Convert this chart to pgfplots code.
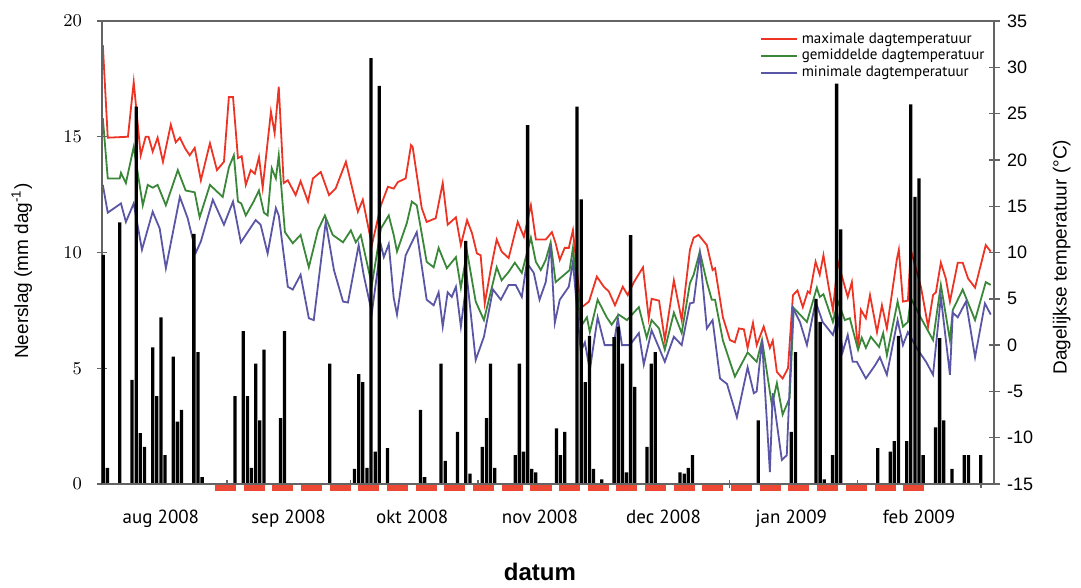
\documentclass[border=0pt]{standalone}
\usepackage{fontspec}
\setmainfont{Liberation Sans}
\newfontfamily\myr{PT Sans}
\usepackage{pgfplots}
\pgfplotsset{compat=1.18}
\definecolor{tmax}{RGB}{237,52,36}
\definecolor{tgem}{RGB}{58,135,58}
\definecolor{tmin}{RGB}{90,86,165}
\definecolor{weekred}{RGB}{236,72,52}
\definecolor{frame}{RGB}{100,100,100}

\begin{document}
\begin{tikzpicture}
% temperatuur (rechts)
\begin{axis}[
    at={(0,0)}, anchor=south west,
    scale only axis, width=446pt, height=231.5pt,
    xmin=0.7, xmax=217.2,
    ymin=-15, ymax=35,
    hide x axis,
    axis y line*=right,
    axis line style={draw=frame, line width=0.7pt},
    ytick={-15,-10,...,35},
    tick align=center,
    major tick length=5.5pt,
    ytick style={draw=frame, line width=0.7pt},
    tick label style={font=\fontsize{9}{10}\selectfont},
    /pgf/number format/assume math mode=true,
    ylabel={Dagelijkse temperatuur (°C)},
    ylabel style={font=\fontsize{9.5}{11}\selectfont, at={(axis description cs:1.076,0.49)}, anchor=center},
    legend style={at={(axis description cs:0.997,0.99)}, anchor=north east, draw=none, fill=none,
        font=\myr\fontsize{7.5}{8}\selectfont, row sep=-2.5pt, inner sep=1pt},
    legend cell align=left,
    legend image code/.code={\draw[#1, line width=1pt] (0pt,0pt) -- (18pt,0pt);},
    line width=0.9pt,
]
\addplot[tmax] coordinates {
(0.9,32.4)(2.1,22.4)(7.0,22.5)(8.4,28.4)(10.1,20.5)(11.3,22.5)(12,22.5)(13.0,20.9)(14.2,22.4)
(15.5,19.8)(17.4,23.8)(18.6,21.9)(19.6,22.4)(20.8,21.3)(22.0,20.5)(23.2,21.3)(24.7,17.8)(26.9,21.8)
(28.6,18.9)(30.3,19.8)(31.5,26.8)(32.5,26.8)(33.7,20.2)(34.6,20.4)(35.6,17.3)(36.8,18.9)(37.8,18.5)
(38.8,20.3)(39.7,17.0)(41.7,25.2)(42.6,22.9)(43.6,27.9)(44.8,17.5)(45.8,17.8)(47.7,16.2)(48.9,17.7)
(50.7,15.5)(51.9,18.0)(53.8,18.7)(55.8,16.2)(57.4,16.9)(59.9,19.8)(62.8,14.4)(64.0,15.7)(66.2,10.8)
(68.4,15.1)(70.1,17.1)(71.5,16.9)(72.5,17.6)(74.4,18.0)(75.7,21.6)(76.1,21.4)(78.3,14.8)(79.5,13.3)
(81.7,13.7)(83.4,17.5)(84.6,13.0)(86.6,13.8)(87.8,10.8)(89.3,13.5)(90.5,12.1)(91.7,9.9)(92.6,9.7)
(93.6,4.5)(95.1,8.3)(96.5,11.4)(97.7,10.1)(99.4,9.4)(101.6,13.3)(103.1,11.7)(104.8,15.1)(106.0,11.4)
(108.4,11.4)(109.9,12.2)(110.8,11.0)(111.8,9.2)(113,10.5)(114.0,10.5)(115.0,12.4)(116.9,4.0)(118.9,4.7)
(120.8,7.4)(122.5,6.3)(123.7,5.8)(125.2,4.3)(127.1,6.3)(128.3,5.4)(129.8,6.8)(132.0,8.4)(133.4,2.9)
(134.1,5.0)(135.9,4.8)(137.3,0.55)(139.5,7.0)(141.4,2.7)(143.4,10.3)(144.3,11.6)(145.5,11.9)(147.5,10.8)
(148.9,8.1)(149.5,8.3)(151.4,3.0)(153.1,0.55)(154.3,0.3)(155.3,1.8)(156.5,1.7)(157.4,-0.3)(158.7,2.4)
(159.6,0)(161.3,2.0)(162.8,-0.3)(163.5,0.5)(164.5,-2.9)(165.9,-3.6)(167.2,-2.5)(168.4,5.4)(169.5,5.9)
(170.8,4.1)(172.0,5.8)(172.5,5.6)(173.9,9.0)(174.9,7.6)(175.8,9.7)(177.1,6.2)(178.1,3.8)(179.3,9.0)
(181.0,6.3)(181.7,5.2)(182.7,6.8)(184.2,-0.5)(184.9,3.8)(186.1,2.9)(187.1,5.4)(188.8,1.4)(190.0,4.3)
(191.2,1.8)(193.6,9.2)(194.1,10.3)(195.1,4.7)(196.3,4.8)(197.0,10.3)(199.5,6.2)(201.2,2.0)(202.4,5.4)
(203.1,5.7)(204.3,8.9)(205.5,7.2)(206.5,4.7)(208.4,8.9)(209.6,8.9)(210.9,7.2)(212.6,6.2)(215.2,10.8)
(216.4,10.1)
};
\addlegendentry{maximale dagtemperatuur}
\addplot[tgem] coordinates {
(0.9,24.5)(2.1,18.0)(5.0,18.0)(5.3,18.6)(6.5,17.5)(8.4,21.4)(10.6,15.1)(11.8,17.3)(13,17.0)(14.2,17.3)
(16.2,15.1)(19.1,18.9)(21.0,16.7)(23.2,16.5)(24.4,13.8)(26.9,17.3)(30.0,16.0)(31.5,19.2)(32.7,20.5)
(33.7,15.5)(34.5,15.3)(35.6,14.0)(37.5,15.5)(38.8,16.7)(40.0,14.3)(40.9,14.0)(41.9,19.1)(42.9,18.0)
(43.6,20.5)(45.1,12.2)(47.0,11.0)(48.9,11.9)(50.9,8.4)(53.1,12.4)(54.8,14.0)(56.7,11.9)(59.2,11.1)
(61.1,12.4)(62.3,11.1)(63.5,11.9)(66.2,6.5)(68.4,12.6)(70.3,14.0)(71.5,11.9)(72.3,10.1)(74.7,13.2)
(75.9,15.5)(77.1,15.1)(79.5,9.0)(81.2,8.4)(82.4,10.5)(84.4,8.3)(86.6,9.5)(87.8,6.2)(89.3,10.1)(91.4,4.7)
(93.4,2.7)(96.5,8.4)(97.7,7.0)(99.4,7.9)(100.9,8.9)(102.6,7.8)(104.8,11.6)(106.0,9.0)(107.2,8.1)
(108.4,9.2)(109.6,11.1)(110.8,6.8)(114.2,8.1)(115.0,10.5)(116.9,2.0)(118.4,3.0)(119.1,1.4)(121.0,4.9)
(123.2,3.0)(124.4,2.2)(126.1,3.3)(128.1,2.7)(131.0,4.1)(132.9,0.8)(134.1,2.7)(135.9,1.8)(137.3,-0.5)
(139.5,3.5)(141.4,1.3)(143.4,6.7)(144.3,7.6)(145.8,10.1)(147.5,6.8)(148.7,4.9)(149.5,4.9)(151.4,0.5)
(154.3,-3.4)(157.4,-0.8)(159.6,-1.8)(160.9,0.55)(163.3,-6.5)(164.5,-4.1)(165.9,-7.5)(167.6,-5.7)
(168.6,4.0)(170.1,3.3)(171.8,2.5)(174.2,6.2)(174.9,5.2)(175.8,5.5)(178.1,2.5)(179.3,4.7)(181.0,2.7)
(182.2,2.9)(184.2,-0.5)(185.1,0.8)(186.1,-0.3)(187.3,0.9)(189.3,-0.2)(190.3,1.3)(191.2,-1.1)(193.8,4.7)
(195.1,2.0)(196.3,2.5)(197.0,5.1)(199.5,2.9)(202.4,0.55)(204.3,6.5)(206.5,0.55)(207.2,3.8)(209.6,6.0)
(212.6,2.7)(215.2,6.8)(216.4,6.5)
};
\addlegendentry{gemiddelde dagtemperatuur}
\addplot[tmin] coordinates {
(0.9,17.3)(2.1,14.3)(5.3,15.3)(6.5,13.3)(8.4,15.3)(10.4,10.3)(13.0,14.4)(14.7,12.6)(16.2,8.3)(19.6,16.0)
(21.5,13.7)(23.5,10.0)(24.7,11.2)(27.6,15.7)(30.3,13.0)(32.5,15.5)(34.4,11.1)(35.6,11.9)(38.0,13.5)
(39.2,13.0)(40.9,9.9)(42.9,14.8)(43.6,14.0)(45.8,6.3)(47.0,6.0)(48.9,7.6)(50.9,2.9)(52.1,2.7)(55.0,13.3)
(57.0,8.1)(59.2,4.7)(60.4,4.6)(63.0,10.8)(64.2,7.6)(66.2,3.5)(68.4,10.8)(69.1,9.5)(70.3,10.9)(71.5,5.1)
(72.3,3.3)(74.4,9.7)(77.1,12.2)(79.5,4.9)(81.2,4.3)(82.4,5.7)(83.4,2.0)(84.6,5.7)(85.6,5.2)(86.6,6.3)
(87.8,2.0)(89.3,7.2)(91.4,-1.6)(93.4,0.9)(95.6,6.0)(97.5,4.9)(99.4,6.5)(101.1,6.5)(102.6,5.2)(103.8,8.9)
(105.5,7.8)(106.9,4.9)(108.4,6.8)(109.6,10.8)(110.6,2.4)(111.8,4.9)(114.0,6.3)(115.0,9.0)(116.9,-0.7)
(117.9,0.3)(119.1,-2.7)(121.0,3.0)(122.7,0)(124.9,0)(125.9,2.9)(126.9,0)(128.8,0)(131.0,1.3)(132.2,-2.1)
(134.1,1.6)(135.9,-0.3)(137.3,-1.8)(139.5,0.9)(141.4,0)(143.4,4.5)(144.3,4.6)(145.8,9.9)(147.5,1.8)
(148.9,2.7)(150.7,-3.6)(152.4,-4.2)(154.8,-7.8)(157.4,-2.4)(158.9,-5.2)(159.6,-5.0)(160.9,0.55)
(162.8,-13.7)(163.5,-5.2)(165.7,-12.4)(166.9,-11.9)(168.4,4.0)(170.1,2.5)(171.8,0)(173.9,4.7)(175.6,2.5)
(178.1,1.1)(179.3,3.0)(180.5,-0.7)(181.7,1.1)(182.9,-1.8)(183.9,-1.8)(186.1,-3.6)(188.3,-2.2)(189.5,-1.3)
(191.2,-3.2)(193.8,2.7)(195.1,0)(196.3,1.4)(198.7,-0.5)(200.7,-1.8)(202.4,-3.2)(204.3,5.2)(206.5,-3.2)
(207.2,3.5)(208.4,3.0)(210.4,4.7)(212.6,-1.3)(215.0,4.5)(216.4,3.3)
};
\addlegendentry{minimale dagtemperatuur}
\end{axis}

% neerslag (links)
\begin{axis}[
    at={(0,0)}, anchor=south west,
    scale only axis, width=446pt, height=231.5pt,
    xmin=0.7, xmax=217.2,
    ymin=0, ymax=20,
    clip=false,
    axis x line*=bottom,
    axis y line*=left,
    axis line style={draw=frame, line width=0.7pt},
    ytick={0,5,...,20},
    tick align=center,
    major tick length=5pt,
    ytick style={draw=frame, line width=0.7pt},
    xtick={15,46,76,107,137,168,199},
    xticklabels={aug 2008,sep 2008,okt 2008,nov 2008,dec 2008,jan 2009,feb 2009},
    major x tick style={draw=none},
    minor xtick={0,31,61,92,122,153,184,214},
    minor x tick style={draw=frame, line width=0.7pt},
    minor tick length=4pt,
    yticklabel style={font=\fontsize{9}{10}\selectfont, xshift=-4pt},
    xticklabel style={font=\myr\fontsize{9.5}{11}\selectfont, yshift=-7pt},
    ylabel={Neerslag (mm dag\textsuperscript{-1})},
    ylabel style={font=\fontsize{9.5}{11}\selectfont, at={(axis description cs:-0.09,0.46)}, anchor=center},
    xlabel={\textbf{datum}},
    xlabel style={font=\fontsize{12}{14}\selectfont, at={(axis description cs:0.491,-0.19)}, anchor=center},
]
\addplot[ybar, bar width=0.8, fill=black, draw=none] coordinates {
(1,9.9)(2,0.7)(5,11.3)(8,4.5)(9,16.3)(10,2.2)(11,1.6)(13,5.9)(14,3.8)(15,7.2)(16,1.25)(18,5.5)(19,2.7)
(20,3.2)(23,10.8)(24,5.7)(25,0.3)(33,3.8)(35,6.6)(36,3.8)(37,0.7)(38,5.2)(39,2.75)(40,5.8)(44,2.85)
(45,6.6)(56,5.2)(62,0.65)(63,4.75)(64,4.4)(65,0.7)(66,18.4)(67,1.4)(68,17.2)(70,1.55)(78,3.2)(79,0.3)
(83,5.2)(84,1.0)(87,2.25)(89,10.5)(90,0.45)(93,1.6)(94,2.85)(95,5.2)(96,0.7)(101,1.25)(102,5.2)(103,1.4)
(104,15.5)(105,0.65)(106,0.5)(111,2.4)(112,1.25)(113,2.25)(116,16.3)(117,12.3)(118,4.4)(119,6.4)(120,0.65)
(122,0.2)(125,6.35)(126,6.8)(127,5.2)(128,0.5)(129,10.75)(130,4.2)(133,1.6)(134,5.2)(135,5.7)(141,0.5)
(142,0.45)(143,0.7)(144,1.25)(160,2.75)(168,2.25)(169,5.7)(174,8.0)(175,7.0)(176,0.2)(178,1.25)(179,17.3)
(180,11.0)(189,1.55)(192,1.4)(193,1.85)(194,6.4)(196,1.85)(197,16.4)(198,12.4)(199,13.2)(200,1.25)
(203,2.45)(204,6.3)(205,2.75)(207,0.65)(210,1.25)(211,1.25)(214,1.25)
};
\addplot[draw=weekred, line width=3pt, unbounded coords=jump] coordinates {
(28.1,-0.17)(33.2,-0.17)(33.2,nan)(35.1,-0.17)(40.2,-0.17)(40.2,nan)(42.0,-0.17)(47.1,-0.17)(47.1,nan)
(49.0,-0.17)(54.1,-0.17)(54.1,nan)(56.0,-0.17)(61.1,-0.17)(61.1,nan)(62.9,-0.17)(68.0,-0.17)(68.0,nan)
(69.9,-0.17)(75.0,-0.17)(75.0,nan)(76.8,-0.17)(81.9,-0.17)(81.9,nan)(83.8,-0.17)(88.9,-0.17)(88.9,nan)
(90.7,-0.17)(95.8,-0.17)(95.8,nan)(97.7,-0.17)(102.8,-0.17)(102.8,nan)(104.7,-0.17)(109.8,-0.17)(109.8,nan)
(111.6,-0.17)(116.7,-0.17)(116.7,nan)(118.6,-0.17)(123.7,-0.17)(123.7,nan)(125.5,-0.17)(130.6,-0.17)(130.6,nan)
(132.5,-0.17)(137.6,-0.17)(137.6,nan)(139.5,-0.17)(144.6,-0.17)(144.6,nan)(146.4,-0.17)(151.5,-0.17)(151.5,nan)
(153.4,-0.17)(158.5,-0.17)(158.5,nan)(160.3,-0.17)(165.4,-0.17)(165.4,nan)(167.3,-0.17)(172.4,-0.17)(172.4,nan)
(174.2,-0.17)(179.3,-0.17)(179.3,nan)(181.2,-0.17)(186.3,-0.17)(186.3,nan)(188.2,-0.17)(193.3,-0.17)(193.3,nan)
(195.1,-0.17)(200.2,-0.17)
};
% bovenrand en onderrand van het kader
\draw[draw=frame, line width=0.7pt] (rel axis cs:0,1) -- (rel axis cs:1,1);
\draw[draw=frame, line width=0.7pt] (rel axis cs:0,0) -- (rel axis cs:1,0);
\end{axis}
\path (-51pt,-50pt) rectangle (489.5pt,242pt);
\end{tikzpicture}
\end{document}
